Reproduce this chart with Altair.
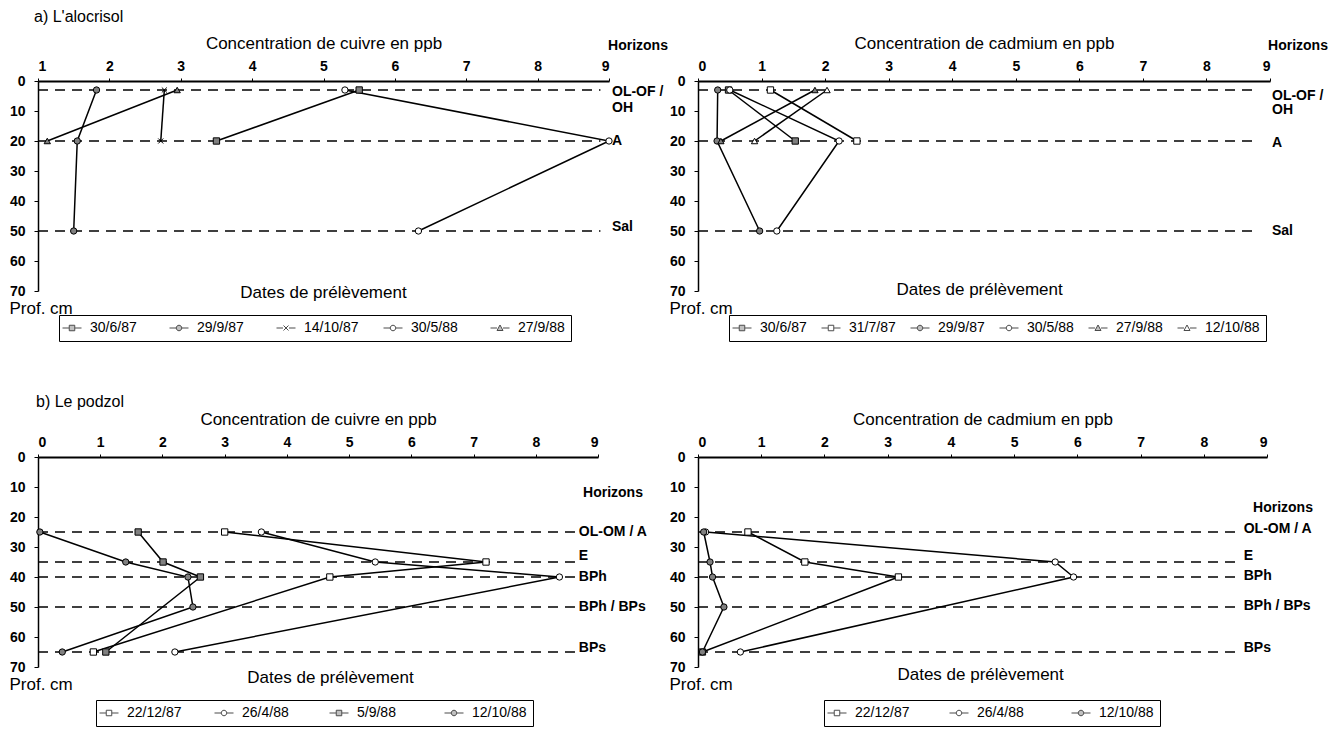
import altair as alt
import pandas as pd

FONT = "Liberation Sans"

# ---------------- a) L'alocrisol : cuivre ----------------
a_cu_series = ["30/6/87", "29/9/87", "14/10/87", "30/5/88", "27/9/88"]
a_cu_date = ["30/6/87", "30/6/87",
             "29/9/87", "29/9/87", "29/9/87",
             "14/10/87", "14/10/87",
             "30/5/88", "30/5/88", "30/5/88",
             "27/9/88", "27/9/88"]
a_cu_depth = [3, 20, 3, 20, 50, 3, 20, 3, 20, 50, 3, 20]
a_cu_value = [5.5, 3.5, 1.82, 1.55, 1.5, 2.77, 2.72, 5.3, 9.0, 6.33, 2.95, 1.13]

# ---------------- a) L'alocrisol : cadmium ----------------
a_cd_series = ["30/6/87", "31/7/87", "29/9/87", "30/5/88", "27/9/88", "12/10/88"]
a_cd_date = ["30/6/87", "30/6/87",
             "31/7/87", "31/7/87",
             "29/9/87", "29/9/87", "29/9/87",
             "30/5/88", "30/5/88", "30/5/88",
             "27/9/88", "27/9/88",
             "12/10/88", "12/10/88"]
a_cd_depth = [3, 20, 3, 20, 3, 20, 50, 3, 20, 50, 3, 20, 3, 20]
a_cd_value = [0.48, 1.53, 1.14, 2.5, 0.31, 0.3, 0.97, 0.5, 2.22, 1.24, 1.84, 0.36, 2.03, 0.89]

# ---------------- b) Le podzol : cuivre ----------------
b_cu_series = ["22/12/87", "26/4/88", "5/9/88", "12/10/88"]
b_cu_date = ["22/12/87"] * 4 + ["26/4/88"] * 4 + ["5/9/88"] * 4 + ["12/10/88"] * 5
b_cu_depth = [25, 35, 40, 65, 25, 35, 40, 65, 25, 35, 40, 65, 25, 35, 40, 50, 65]
b_cu_value = [3.0, 7.2, 4.69, 0.89, 3.59, 5.42, 8.38, 2.2, 1.61, 2.01, 2.61, 1.09,
              0.03, 1.41, 2.41, 2.49, 0.39]

# ---------------- b) Le podzol : cadmium ----------------
b_cd_series = ["22/12/87", "26/4/88", "12/10/88"]
b_cd_date = ["22/12/87"] * 4 + ["26/4/88"] * 4 + ["12/10/88"] * 5
b_cd_depth = [25, 35, 40, 65, 25, 35, 40, 65, 25, 35, 40, 50, 65]
b_cd_value = [0.79, 1.69, 3.17, 0.07, 0.12, 5.65, 5.94, 0.67, 0.09, 0.19, 0.23, 0.41, 0.07]

# ---------------- horizons ----------------
a_horizon_depth = [3, 20, 50]
b_horizon_depth = [25, 35, 40, 50, 65]
a_horizon_text = ["OL-OF /", "OH", "A", "Sal"]
b_horizon_text = ["OL-OM / A", "E", "BPh", "BPh / BPs", "BPs"]

# ---------------- marker styles (per series) ----------------
a_cu_marker = [("square", "f"), ("circle", "f"), ("cross", "o"), ("circle", "o"), ("triangle", "f")]
a_cd_marker = [("square", "f"), ("square", "o"), ("circle", "f"), ("circle", "o"),
               ("triangle", "f"), ("triangle", "o")]
b_cu_marker = [("square", "o"), ("circle", "o"), ("square", "f"), ("circle", "f")]
b_cd_marker = [("square", "o"), ("circle", "o"), ("circle", "f")]

X_PATH = "M-0.8,-0.8L0.8,0.8M-0.8,0.8L0.8,-0.8"
CHART_SHAPE = {"square": "square", "circle": "circle", "cross": X_PATH, "triangle": "triangle-up"}
STUB = "M-1.9,0H-0.6M0.6,0H1.9"
LEGEND_SHAPE = {
    "square": "M-0.55,-0.55H0.55V0.55H-0.55Z" + STUB,
    "circle": "M-0.55,0A0.55,0.55,0,1,0,0.55,0A0.55,0.55,0,1,0,-0.55,0Z" + STUB,
    "cross": "M-0.5,-0.5L0.5,0.5M-0.5,0.5L0.5,-0.5" + STUB,
    "triangle": "M0,-0.6L0.6,0.5H-0.6Z" + STUB,
}
FILL = {"f": "#808080", "o": "white"}


def panel(date, depth, value, series, markers, xmin, width, xtitle,
          hz_depth, rule_end, lab_text, lab_depth, lab_x, lab_dx,
          hz_title_x, hz_title_y, hz_title_dx, dates_x, dates_y,
          legend_x, legend_y, legend_colpad, heading=None, heading_y=None, heading_dx=0):
    pts = pd.DataFrame({"date": date, "depth": depth, "value": value})
    pts["seq"] = range(len(pts))

    xs = alt.Scale(domain=[xmin, 9], nice=False, zero=False)
    ys = alt.Scale(domain=[0, 70], reverse=True, nice=False, zero=False)
    xax = alt.Axis(orient="top", values=list(range(xmin, 10)), title=xtitle, grid=False,
                   domainColor="black", domainWidth=2, tickColor="black", tickSize=3,
                   labelFont=FONT, labelFontSize=14, labelFontWeight="bold", labelColor="black",
                   labelPadding=5, titleFont=FONT, titleFontSize=17, titleFontWeight="normal",
                   titleColor="black", titlePadding=7, labelAngle=0)
    yax = alt.Axis(values=list(range(0, 71, 10)), title="Prof. cm", grid=False,
                   domainColor="black", domainWidth=1.5, tickColor="black", tickSize=4,
                   labelFont=FONT, labelFontSize=14, labelFontWeight="bold", labelColor="black",
                   labelPadding=9, titleFont=FONT, titleFontSize=17, titleFontWeight="normal",
                   titleColor="black", titleAngle=0, titleAlign="left", titleBaseline="top",
                   titleX=-29, titleY=219)

    def X(f):
        return alt.X(f, type="quantitative", scale=xs, axis=xax)

    def Y(f):
        return alt.Y(f, type="quantitative", scale=ys, axis=yax)

    hz = pd.DataFrame({"depth": hz_depth, "x0": [xmin] * len(hz_depth),
                       "x1": [rule_end] * len(hz_depth)})
    rules = alt.Chart(hz).mark_rule(color="black", strokeWidth=1.4, strokeDash=[10, 7]).encode(
        x=X("x0"), x2="x1", y=Y("depth"))

    lines = alt.Chart(pts).mark_line(color="black", strokeWidth=1.5).encode(
        x=X("value"), y=Y("depth"), detail="date:N", order="seq:Q")

    shapes = [CHART_SHAPE[m[0]] for m in markers]
    lshapes = [LEGEND_SHAPE[m[0]] for m in markers]
    fills = [FILL[m[1]] for m in markers]
    strokes = ["black"] * len(markers)

    points = alt.Chart(pts).mark_point(filled=True, stroke="black", strokeWidth=1, size=40,
                                       opacity=1).encode(
        x=X("value"), y=Y("depth"),
        shape=alt.Shape("date:N", scale=alt.Scale(domain=series, range=shapes), legend=None),
        fill=alt.Fill("date:N", scale=alt.Scale(domain=series, range=fills), legend=None))

    leg = alt.Legend(orient="none", legendX=legend_x, legendY=legend_y, direction="horizontal",
                     title=None, strokeColor="black", fillColor="white", padding=6,
                     symbolSize=100, symbolStrokeWidth=1, symbolStrokeColor="black",
                     labelFont=FONT, labelFontSize=14, labelColor="black", labelOffset=11,
                     columnPadding=legend_colpad, gridAlign="all")
    legend_layer = alt.Chart(pts).mark_point(filled=True, strokeWidth=1).encode(
        x=X("value"), y=Y("depth"),
        shape=alt.Shape("date:N", scale=alt.Scale(domain=series, range=lshapes), legend=leg),
        fill=alt.Fill("date:N", scale=alt.Scale(domain=series, range=fills), legend=leg),
        stroke=alt.Stroke("date:N", scale=alt.Scale(domain=series, range=strokes), legend=leg)
    ).transform_filter("false")

    labs = pd.DataFrame({"text": lab_text, "x": [lab_x] * len(lab_text), "y": lab_depth})
    labels = alt.Chart(labs).mark_text(align="left", baseline="middle", dx=lab_dx, font=FONT,
                                       fontSize=14, fontWeight="bold", color="black").encode(
        x=X("x"), y=Y("y"), text="text:N")

    ht = pd.DataFrame({"text": ["Horizons"], "x": [hz_title_x], "y": [hz_title_y]})
    htitle = alt.Chart(ht).mark_text(align="center", baseline="middle", dx=hz_title_dx, font=FONT,
                                     fontSize=14, fontWeight="bold", color="black").encode(
        x=X("x"), y=Y("y"), text="text:N")

    dt = pd.DataFrame({"text": ["Dates de prélèvement"], "x": [dates_x], "y": [dates_y]})
    dtext = alt.Chart(dt).mark_text(align="center", baseline="middle", font=FONT, fontSize=17,
                                    color="black").encode(x=X("x"), y=Y("y"), text="text:N")

    layers = [rules, lines, points, legend_layer, labels, htitle, dtext]
    if heading is not None:
        hd = pd.DataFrame({"text": [heading], "x": [xmin], "y": [heading_y]})
        layers.append(alt.Chart(hd).mark_text(align="left", baseline="middle", dx=heading_dx,
                                              font=FONT, fontSize=16, color="black").encode(
            x=X("x"), y=Y("y"), text="text:N"))

    return alt.layer(*layers).resolve_scale(
        shape="independent", fill="independent", stroke="independent").properties(
        width=width, height=210)


pA1 = panel(a_cu_date, a_cu_depth, a_cu_value, a_cu_series, a_cu_marker, 1, 571,
            "Concentration de cuivre en ppb",
            a_horizon_depth, 8.88, a_horizon_text, [3.5, 9, 20, 48.5], 9, 3,
            9, -11.7, 29, 5, 70.5, 21, 234, 22,
            heading="a)  L'alocrisol", heading_y=-21.5, heading_dx=-4)
pA2 = panel(a_cd_date, a_cd_depth, a_cd_value, a_cd_series, a_cd_marker, 0, 572,
            "Concentration de cadmium en ppb",
            a_horizon_depth, 8.72, a_horizon_text, [5, 9.5, 20.5, 50], 9, 2,
            9, -11.7, 28, 4.43, 69.5, 31, 234, 4)
pB1 = panel(b_cu_date, b_cu_depth, b_cu_value, b_cu_series, b_cu_marker, 0, 560,
            "Concentration de cuivre en ppb",
            b_horizon_depth, 8.63, b_horizon_text, [25, 33, 40, 50, 63.5], 8.66, 2,
            9, 12, 15, 4.7, 73.5, 58, 243, 30,
            heading="b)  Le podzol", heading_y=-18.5, heading_dx=-2)
pB2 = panel(b_cd_date, b_cd_depth, b_cd_value, b_cd_series, b_cd_marker, 0, 569,
            "Concentration de cadmium en ppb",
            b_horizon_depth, 8.56, b_horizon_text, [24, 33, 39.5, 49.5, 63.5], 8.6, 2,
            9, 17, 16, 4.47, 72.5, 126, 243, 37)

chart = alt.concat(pA1, pA2, pB1, pB2, columns=2, spacing={"row": 166, "column": 89},
                   bounds="flush").resolve_scale(
    x="independent", y="independent", shape="independent", fill="independent",
    stroke="independent"
).configure(font=FONT, padding={"left": 0, "top": 0, "right": 0, "bottom": 0}
).configure_view(stroke="transparent")

chart.save("out.html", embed_options={"renderer": "svg", "actions": False})
